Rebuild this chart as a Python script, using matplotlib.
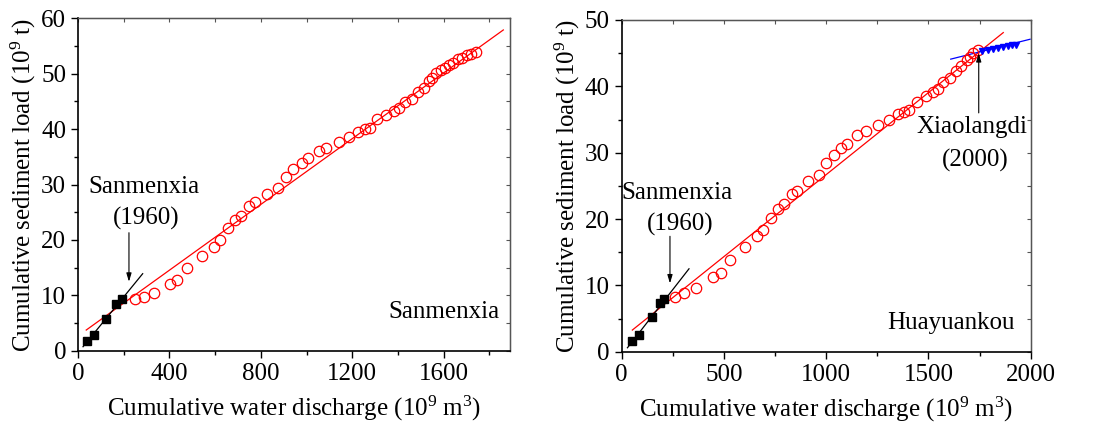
# Cumulative sediment load vs cumulative water discharge, Sanmenxia and Huayuankou
import numpy as np
import matplotlib

matplotlib.use("Agg")
import matplotlib.pyplot as plt
from matplotlib.ticker import MultipleLocator

plt.rcParams["font.family"] = ["Liberation Serif", "DejaVu Serif"]
plt.rcParams["mathtext.fontset"] = "custom"
plt.rcParams["mathtext.rm"] = "Liberation Serif"
plt.rcParams["mathtext.it"] = "Liberation Serif:italic"

# --- Sanmenxia station (left) ---
smx_pre_x = [39, 70, 124, 166, 191]
smx_pre_y = [1.8, 2.8, 5.7, 8.5, 9.3]
smx_post_x = [248, 288, 333, 401, 435, 477, 542, 596, 620, 657, 688, 715, 747, 775,
              825, 874, 908, 942, 980, 1006, 1053, 1086, 1140, 1187, 1225, 1255,
              1276, 1310, 1347, 1382, 1406, 1431, 1460, 1488, 1514, 1536, 1549,
              1565, 1590, 1607, 1625, 1642, 1663, 1682, 1701, 1721, 1740]
smx_post_y = [9.3, 9.75, 10.5, 12.0, 12.75, 14.9, 17.1, 18.65, 20.0, 22.1, 23.6,
              24.4, 26.2, 26.8, 28.2, 29.3, 31.3, 32.8, 33.9, 34.7, 36.1, 36.6,
              37.6, 38.6, 39.5, 40.0, 40.25, 41.8, 42.5, 43.3, 43.8, 44.9, 45.5,
              46.7, 47.5, 48.7, 49.2, 50.1, 50.7, 51.0, 51.5, 52.0, 52.6, 52.9,
              53.3, 53.55, 53.85]
smx_fit_black_x = [22, 283]
smx_fit_black_y = [0.72, 13.9]
smx_fit_red_x = [36, 1861]
smx_fit_red_y = [3.73, 57.9]

# --- Huayuankou station (right) ---
hyk_pre_x = [49, 83, 147, 186, 205]
hyk_pre_y = [1.56, 2.5, 5.3, 7.3, 7.9]
hyk_mid_x = [261, 306, 362, 448, 487, 531, 605, 662, 691, 729, 763, 794, 831, 857,
             911, 967, 1001, 1037, 1074, 1102, 1151, 1193, 1255, 1307, 1353, 1382,
             1407, 1444, 1487, 1524, 1549, 1573, 1604, 1635, 1659, 1687, 1702,
             1720, 1741]
hyk_mid_y = [8.3, 8.8, 9.65, 11.25, 11.9, 13.8, 15.8, 17.4, 18.4, 20.2, 21.5, 22.2,
             23.7, 24.3, 25.8, 26.7, 28.5, 29.7, 30.75, 31.3, 32.6, 33.3, 34.1,
             35.0, 35.8, 36.2, 36.4, 37.7, 38.5, 39.2, 39.6, 40.7, 41.2, 42.3,
             43.1, 43.9, 44.4, 45.0, 45.5]
hyk_post_x = [1762, 1790, 1815, 1840, 1865, 1888, 1910, 1930]
hyk_post_y = [45.3, 45.5, 45.65, 45.8, 45.95, 46.1, 46.2, 46.3]
hyk_fit_black_x = [28, 329]
hyk_fit_black_y = [0.6, 12.5]
hyk_fit_red_x = [52, 1866]
hyk_fit_red_y = [3.27, 48.1]
hyk_fit_blue_x = [1609, 1997]
hyk_fit_blue_y = [44.1, 47.1]

fs_tick = 18
fs_label = 18
fs_text = 18

fig = plt.figure(figsize=(11.11, 4.30), dpi=100)
ax1 = fig.add_axes([0.0702, 0.1844, 0.3888, 0.773])
ax2 = fig.add_axes([0.5596, 0.182, 0.3681, 0.7715])

arrow_kw = dict(arrowstyle="-|>,head_length=0.5,head_width=0.15", color="k", lw=0.8,
                shrinkA=0, shrinkB=0)


def style_axes(ax, xlim, ylim, xmaj, xmin, ymaj, ymin):
    ax.set_xlim(*xlim)
    ax.set_ylim(*ylim)
    ax.xaxis.set_major_locator(MultipleLocator(xmaj))
    ax.xaxis.set_minor_locator(MultipleLocator(xmin))
    ax.yaxis.set_major_locator(MultipleLocator(ymaj))
    ax.yaxis.set_minor_locator(MultipleLocator(ymin))
    ax.tick_params(which="major", direction="out", length=5, width=1, labelsize=fs_tick)
    ax.tick_params(which="minor", direction="out", length=3, width=1)
    for s in ["left", "bottom"]:
        ax.spines[s].set_linewidth(1.2)
    for s in ["top", "right"]:
        ax.spines[s].set_linewidth(1.0)
        ax.spines[s].set_color("#555555")
    top = ax.secondary_xaxis("top")
    top.xaxis.set_major_locator(MultipleLocator(xmaj))
    top.xaxis.set_minor_locator(MultipleLocator(xmin))
    top.tick_params(which="both", direction="in", length=3, width=0.8,
                    labeltop=False, colors="#555555")
    right = ax.secondary_yaxis("right")
    right.yaxis.set_major_locator(MultipleLocator(ymaj))
    right.yaxis.set_minor_locator(MultipleLocator(ymin))
    right.tick_params(which="both", direction="in", length=3, width=0.8,
                      labelright=False, colors="#555555")
    ax.set_xlabel("Cumulative water discharge (10$^9$ m$^3$)", fontsize=fs_label,
                  labelpad=7)
    ax.set_ylabel("Cumulative sediment load (10$^9$ t)", fontsize=fs_label, labelpad=2)


# Left panel
ax1.plot(smx_fit_red_x, smx_fit_red_y, color="red", lw=0.9, zorder=2)
ax1.plot(smx_fit_black_x, smx_fit_black_y, color="black", lw=0.9, zorder=2)
ax1.plot(smx_post_x, smx_post_y, "o", mfc="none", mec="red", ms=7.5, mew=0.9, zorder=3)
ax1.plot(smx_pre_x, smx_pre_y, "s", color="black", ms=6, zorder=3)
ax1.annotate("", xy=(223, 12.45), xytext=(223, 21.3), arrowprops=arrow_kw)
ax1.text(287, 29.6, "Sanmenxia", fontsize=fs_text, ha="center", va="center")
ax1.text(299, 23.9, "(1960)", fontsize=fs_text, ha="center", va="center")
ax1.text(1845, 6.9, "Sanmenxia", fontsize=fs_text, ha="right", va="center")
style_axes(ax1, (0, 1890), (0, 60), 400, 200, 10, 5)

# Right panel
ax2.plot(hyk_fit_red_x, hyk_fit_red_y, color="red", lw=0.9, zorder=2)
ax2.plot(hyk_fit_black_x, hyk_fit_black_y, color="black", lw=0.9, zorder=2)
ax2.plot(hyk_fit_blue_x, hyk_fit_blue_y, color="blue", lw=0.9, zorder=2)
ax2.plot(hyk_mid_x, hyk_mid_y, "o", mfc="none", mec="red", ms=7.5, mew=0.9, zorder=3)
ax2.plot(hyk_pre_x, hyk_pre_y, "s", color="black", ms=6, zorder=3)
ax2.plot(hyk_post_x, hyk_post_y, "v", color="blue", ms=5, zorder=3)
ax2.annotate("", xy=(236, 10.3), xytext=(236, 17.4), arrowprops=arrow_kw)
ax2.annotate("", xy=(1746, 45.0), xytext=(1746, 36.0), arrowprops=arrow_kw)
ax2.text(272, 24.0, "Sanmenxia", fontsize=fs_text, ha="center", va="center")
ax2.text(285, 19.2, "(1960)", fontsize=fs_text, ha="center", va="center")
ax2.text(1715, 33.8, "Xiaolangdi", fontsize=fs_text, ha="center", va="center")
ax2.text(1731, 28.9, "(2000)", fontsize=fs_text, ha="center", va="center")
ax2.text(1923, 4.3, "Huayuankou", fontsize=fs_text, ha="right", va="center")
style_axes(ax2, (0, 2000), (0, 50), 500, 250, 10, 5)

fig.savefig("out.png", dpi=100)
